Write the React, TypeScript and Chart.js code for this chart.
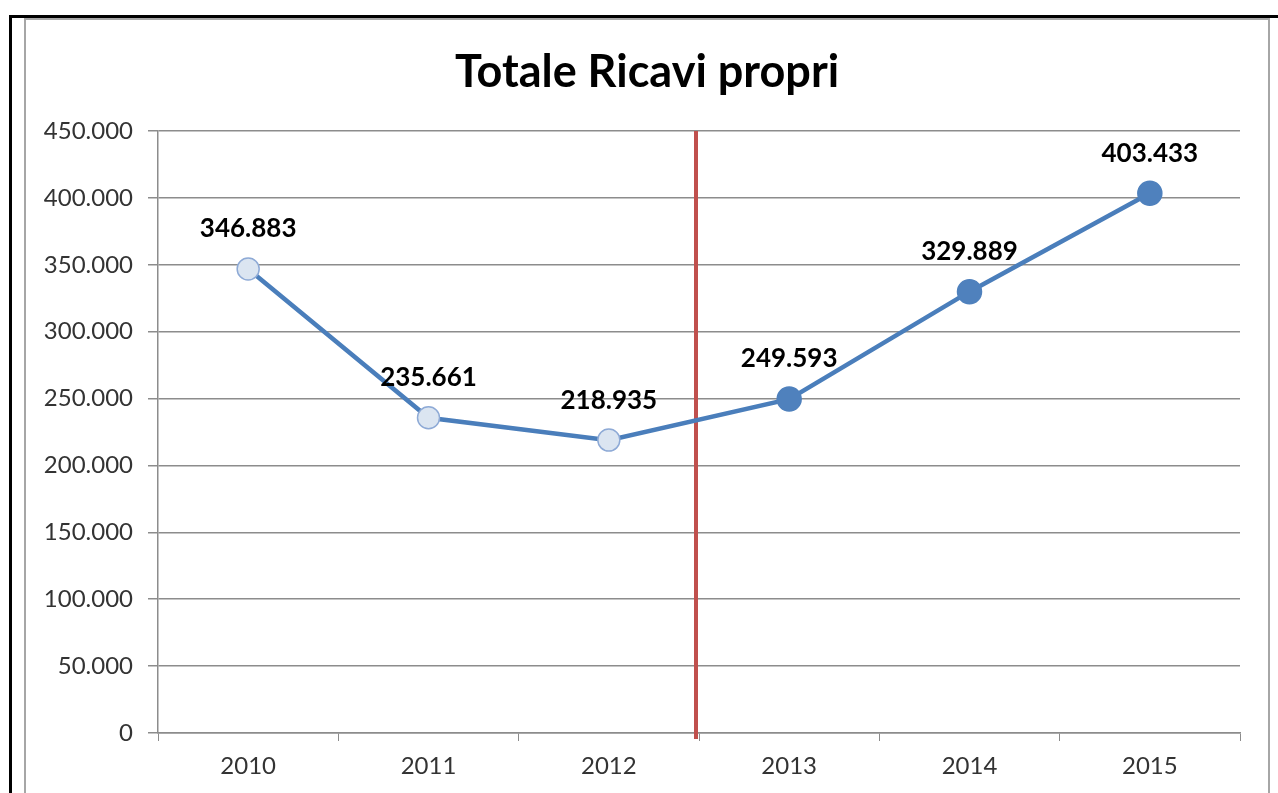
import React, { useEffect, useRef } from "react";
import { Chart, registerables } from "chart.js";

Chart.register(...registerables);

const TITLE = "Totale Ricavi propri";
const YEARS = ["2010", "2011", "2012", "2013", "2014", "2015"];
const RICAVI = [346883, 235661, 218935, 249593, 329889, 403433];
const Y_MIN = 0;
const Y_MAX = 450000;
const Y_STEP = 50000;
// first three years are consuntivo (hollow markers), last three are previsione (filled)
const IS_FORECAST = [false, false, false, true, true, true];
const DIVIDER_AFTER_INDEX = 2;

function fmtIt(v: number): string {
  const s = Math.round(v).toString();
  return s.replace(/\B(?=(\d{3})+(?!\d))/g, ".");
}

const titleShiftPlugin = {
  id: "titleShift",
  afterLayout(chart: any) {
    const tb = chart.titleBlock;
    if (tb) {
      // center the title over the whole frame rather than the padded area
      tb.left = 54;
    }
  },
};

const dividerPlugin = {
  id: "dividerLine",
  beforeDatasetsDraw(chart: any) {
    const x = chart.scales.x;
    const area = chart.chartArea;
    const px = (x.getPixelForValue(DIVIDER_AFTER_INDEX) + x.getPixelForValue(DIVIDER_AFTER_INDEX + 1)) / 2 - 3;
    const ctx = chart.ctx;
    ctx.save();
    ctx.strokeStyle = "#c0504d";
    ctx.lineWidth = 4;
    ctx.beginPath();
    ctx.moveTo(px, area.top);
    ctx.lineTo(px, area.bottom + 6);
    ctx.stroke();
    ctx.restore();
  },
};

const labelPlugin = {
  id: "valueLabels",
  afterDatasetsDraw(chart: any) {
    const meta = chart.getDatasetMeta(0);
    const ctx = chart.ctx;
    ctx.save();
    ctx.font = "bold 26px Lato";
    ctx.fillStyle = "#000000";
    ctx.textAlign = "center";
    ctx.textBaseline = "middle";
    meta.data.forEach((pt: any, i: number) => {
      ctx.fillText(fmtIt(RICAVI[i]), pt.x, pt.y - 40);
    });
    ctx.restore();
  },
};

export default function App() {
  const ref = useRef<HTMLCanvasElement | null>(null);

  useEffect(() => {
    if (!ref.current) return;
    const chart = new Chart(ref.current, {
      type: "line",
      data: {
        labels: YEARS,
        datasets: [
          {
            data: RICAVI,
            borderColor: "#4a7ebb",
            borderWidth: 4.5,
            pointRadius: IS_FORECAST.map((f) => (f ? 12 : 11)),
            pointBackgroundColor: IS_FORECAST.map((f) => (f ? "#4f81bd" : "#dbe5f1")),
            pointBorderColor: IS_FORECAST.map((f) => (f ? "#4f81bd" : "#8eaad6")),
            pointBorderWidth: 1.5,
            tension: 0,
            fill: false,
          },
        ],
      },
      options: {
        responsive: false,
        animation: false,
        layout: { padding: { left: 0, right: 38, top: 0, bottom: 0 } },
        plugins: {
          legend: { display: false },
          tooltip: { enabled: false },
          title: {
            display: true,
            text: TITLE,
            color: "#000000",
            font: { family: "Lato", size: 45, weight: "bold", lineHeight: 1.2 },
            padding: { top: 45, bottom: 32 },
          },
        },
        scales: {
          x: {
            type: "category",
            offset: true,
            afterFit(scale: any) {
              scale.height = 60;
            },
            grid: {
              offset: true,
              drawOnChartArea: false,
              drawTicks: true,
              tickLength: 8,
              color: "#8c8c8c",
            },
            border: { display: true, color: "#8c8c8c", width: 1.5 },
            ticks: {
              color: "#333333",
              font: { family: "Lato", size: 24 },
              padding: 11,
              maxRotation: 0,
            },
          },
          y: {
            min: Y_MIN,
            max: Y_MAX,
            afterFit(scale: any) {
              scale.width = 158;
            },
            grid: {
              color: "#8c8c8c",
              lineWidth: 1.5,
              tickLength: 10,
              drawTicks: true,
            },
            border: { display: true, color: "#8c8c8c", width: 1.5 },
            ticks: {
              stepSize: Y_STEP,
              color: "#333333",
              font: { family: "Lato", size: 24 },
              padding: 15,
              callback: (v: any) => fmtIt(Number(v)),
            },
          },
        },
      },
      plugins: [titleShiftPlugin, dividerPlugin, labelPlugin],
    });
    return () => chart.destroy();
  }, []);

  return (
    <div
      style={{
        position: "absolute",
        left: 0,
        top: 0,
        width: 1278,
        height: 793,
        overflow: "hidden",
        background: "#ffffff",
      }}
    >
      <div
        style={{
          position: "absolute",
          left: 9,
          top: 15,
          width: 1300,
          height: 900,
          borderTop: "3px solid #000000",
          borderLeft: "3px solid #000000",
        }}
      />
      <div
        style={{
          position: "absolute",
          left: 24,
          top: 18,
          width: 1242,
          height: 900,
          border: "2px solid #a6a6a6",
        }}
      />
      <canvas
        ref={ref}
        width={1278}
        height={793}
        style={{ position: "absolute", left: 0, top: 0, width: 1278, height: 793 }}
      />
    </div>
  );
}
